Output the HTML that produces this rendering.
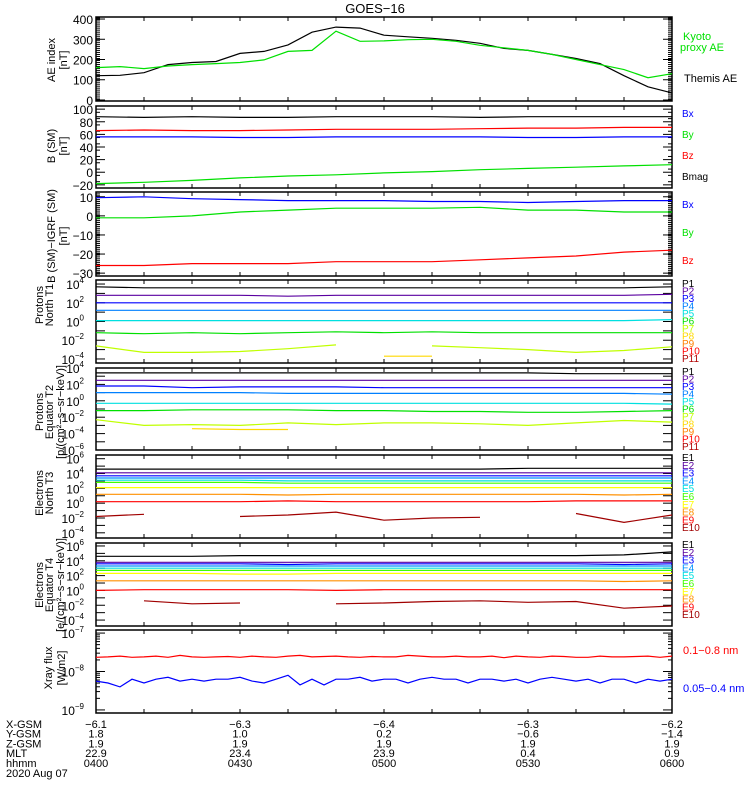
<!DOCTYPE html>
<html><head><meta charset="utf-8"><style>
body{margin:0;background:#fff}
svg{display:block;font-family:"Liberation Sans",sans-serif}
</style></head><body>
<svg id="chart" width="750" height="800" viewBox="0 0 750 800" xmlns="http://www.w3.org/2000/svg">
<rect width="750" height="800" fill="#fff"/>
<text x="375" y="13" text-anchor="middle" font-size="13">GOES−16</text>
<g id="plots"></g>
</svg>
<script>
// ---- data ----
const timesAE = [0,5,10,15,20,25,30,35,40,45,50,55,60,65,70,75,80,85,90,95,100,105,110,115,120];
const aeThemis = [120,122,135,175,185,190,230,240,272,335,360,355,320,312,305,295,280,255,245,225,205,180,120,65,35];
const aeKyoto = [160,165,155,168,175,180,185,198,240,245,340,290,292,298,300,290,270,258,245,225,200,175,150,110,130];
const times10 = [0,10,20,30,40,50,60,70,80,90,100,110,120];
const bBmag = [88,87,88,87,87,88,88,88,87,88,88,88,88];
const bBz = [66,67,66,66,67,68,68,68,69,70,70,71,71];
const bBx = [56,56,56,55,55,56,56,56,56,55,55,56,56];
const bBy = [-18,-16,-13,-9,-6,-4,-1,1,4,6,8,10,12];
const dBx = [9.5,10,9,8.5,8,8,8,7.5,7.5,7,7.5,8,8];
const dBy = [-1,-1,0,2,3,4,4,4,4.5,3,3,2,2];
const dBz = [-26,-26,-25,-25,-25,-24,-24,-24,-23,-22,-21,-19,-18];
// log10 fluxes
const t1 = [
 [3.7,3.6,3.6,3.6,3.6,3.6,3.6,3.6,3.6,3.6,3.6,3.6,3.7],
 [2.8,2.8,2.8,2.8,2.7,2.8,2.8,2.8,2.8,2.8,2.8,2.8,2.9],
 [2.0,2.0,2.0,2.0,2.0,2.0,2.0,2.0,2.0,2.0,2.0,2.0,2.0],
 [1.2,1.2,1.2,1.2,1.2,1.2,1.2,1.2,1.2,1.2,1.2,1.2,1.2],
 [0.1,0.1,0.1,0.1,0.1,0.1,0.1,0.1,0.1,0.1,0.1,0.1,0.2],
 [-1.2,-1.3,-1.2,-1.3,-1.2,-1.1,-1.2,-1.1,-1.2,-1.2,-1.2,-1.2,-1.2],
 [-2.6,-3.3,-3.3,-3.2,-2.9,-2.5,null,-2.6,-2.8,-3.0,-3.3,-3.1,-2.7],
 [null,null,null,null,null,null,null,null,null,null,null,null,null],
 [null,null,null,null,null,null,null,null,null,null,null,null,null],
 [null,null,null,null,null,null,null,null,null,null,null,null,null],
 [null,null,null,null,null,null,null,null,null,null,null,null,null]];
const t1P8 = [null,null,null,null,null,null,-3.7,-3.7,null,null,null,null,null];
const t2 = [
 [3.4,3.4,3.4,3.4,3.4,3.4,3.4,3.4,3.4,3.4,3.3,3.3,3.3],
 [2.5,2.5,2.5,2.5,2.5,2.5,2.5,2.5,2.5,2.5,2.5,2.5,2.5],
 [1.8,1.8,1.6,1.7,1.7,1.7,1.6,1.6,1.6,1.6,1.6,1.6,1.6],
 [1.0,1.0,1.0,1.0,0.9,0.9,0.9,0.9,0.9,0.9,0.9,0.9,0.8],
 [-0.3,-0.3,-0.3,-0.3,-0.3,-0.3,-0.3,-0.3,-0.3,-0.3,-0.3,-0.3,-0.4],
 [-1.2,-1.2,-1.1,-1.1,-1.1,-1.2,-1.2,-1.3,-1.3,-1.4,-1.4,-1.3,-1.2],
 [-2.3,-3.0,-2.9,-3.0,-2.7,-2.9,-2.7,-2.7,-2.8,-3.0,-2.7,-2.4,-2.6]];
const t2P8 = [null,null,-3.4,-3.5,-3.5,null,null,null,null,null,null,null,null];
const t3 = [
 [4.6,4.6,4.6,4.6,4.6,4.6,4.6,4.6,4.6,4.7,4.7,4.7,4.7],
 [4.1,4.1,4.1,4.1,4.1,4.1,4.1,4.1,4.1,4.1,4.1,4.1,4.1],
 [3.7,3.7,3.7,3.7,3.7,3.7,3.7,3.7,3.7,3.7,3.7,3.7,3.7],
 [3.4,3.4,3.4,3.4,3.4,3.4,3.4,3.4,3.4,3.4,3.4,3.4,3.4],
 [3.1,3.1,3.1,3.1,3.0,3.0,3.0,3.0,3.0,3.0,3.0,3.0,3.0],
 [2.8,2.8,2.8,2.8,2.7,2.7,2.7,2.7,2.7,2.7,2.7,2.7,2.7],
 [2.1,2.1,2.1,2.1,2.1,2.1,2.1,2.1,2.1,2.1,2.1,2.1,2.1],
 [1.2,1.2,1.2,1.2,1.1,1.2,1.2,1.2,1.2,1.2,1.2,1.1,1.2],
 [0.2,0.2,0.2,0.2,0.3,0.2,0.2,0.2,0.2,0.2,0.3,0.3,0.3],
 [-1.8,-1.5,null,-1.8,-1.6,-1.2,-2.3,-2.0,-1.9,null,-1.4,-2.6,-1.6]];
const t4 = [
 [4.6,4.6,4.6,4.7,4.7,4.7,4.7,4.7,4.7,4.7,4.7,4.8,5.2],
 [3.8,3.8,3.8,3.8,3.8,3.8,3.8,3.8,3.8,3.8,3.8,3.8,3.8],
 [3.6,3.6,3.6,3.6,3.5,3.6,3.6,3.6,3.6,3.6,3.6,3.5,3.6],
 [3.3,3.3,3.3,3.3,3.3,3.3,3.3,3.3,3.3,3.3,3.3,3.3,3.3],
 [3.0,3.0,3.0,3.0,3.0,3.0,3.0,3.0,3.0,3.0,3.0,3.0,3.0],
 [2.7,2.7,2.7,2.7,2.7,2.7,2.7,2.7,2.7,2.7,2.7,2.7,2.7],
 [2.3,2.3,2.3,2.2,2.2,2.3,2.3,2.3,2.3,2.3,2.3,2.3,2.3],
 [1.3,1.3,1.3,1.3,1.3,1.3,1.3,1.3,1.3,1.3,1.3,1.2,1.3],
 [0,0.1,0.1,0.1,0.1,0,0.1,0.1,0.1,0.1,0.1,0.1,0.1],
 [null,-1.4,-1.8,-1.7,null,-1.8,-1.7,-1.5,-1.4,-1.6,-1.5,-2.4,-2.1]];
const timesX = [0,2.5,5,7.5,10,12.5,15,17.5,20,22.5,25,27.5,30,32.5,35,37.5,40,42.5,45,47.5,50,52.5,55,57.5,60,62.5,65,67.5,70,72.5,75,77.5,80,82.5,85,87.5,90,92.5,95,97.5,100,102.5,105,107.5,110,112.5,115,117.5,120];
const xrayLong = [-7.63,-7.62,-7.6,-7.63,-7.62,-7.6,-7.63,-7.58,-7.62,-7.63,-7.62,-7.61,-7.63,-7.6,-7.62,-7.63,-7.6,-7.58,-7.62,-7.61,-7.6,-7.62,-7.63,-7.61,-7.62,-7.62,-7.58,-7.6,-7.62,-7.62,-7.6,-7.62,-7.62,-7.6,-7.64,-7.6,-7.62,-7.63,-7.6,-7.61,-7.63,-7.63,-7.6,-7.62,-7.62,-7.61,-7.6,-7.63,-7.6];
const xrayShort = [-8.25,-8.3,-8.4,-8.2,-8.3,-8.2,-8.15,-8.25,-8.2,-8.25,-8.2,-8.2,-8.15,-8.25,-8.3,-8.2,-8.1,-8.35,-8.2,-8.35,-8.2,-8.2,-8.15,-8.25,-8.2,-8.2,-8.3,-8.2,-8.15,-8.2,-8.2,-8.3,-8.2,-8.2,-8.25,-8.2,-8.3,-8.2,-8.15,-8.2,-8.25,-8.2,-8.3,-8.2,-8.2,-8.3,-8.2,-8.25,-8.2];
const xRowNames = ["X-GSM","Y-GSM","Z-GSM","MLT","hhmm"];
const xRowVals = [["-6.1","-6.3","-6.4","-6.3","-6.2"],["1.8","1.0","0.2","-0.6","-1.4"],["1.9","1.9","1.9","1.9","1.9"],["22.9","23.4","23.9","0.4","0.9"],["0400","0430","0500","0530","0600"]];
const labelTimes = [0,30,60,90,120];

// ---- layout ----
const X0=96, X1=672, TMAX=120;
const xs = t => X0 + (X1-X0)*t/TMAX;
const PCOL=["#000","#5a00a0","#0000ff","#0080ff","#00e0e0","#00e000","#c0ff00","#ffd800","#ff8000","#ff0000","#b00000"];
const ECOL=["#000","#5a00a0","#0000ff","#0090ff","#00e0e0","#40ff00","#ffff00","#ff9000","#ff0000","#a00000"];
const g=document.getElementById('plots');
const NS="http://www.w3.org/2000/svg";
function el(tag,attrs,parent){const e=document.createElementNS(NS,tag);for(const k in attrs)e.setAttribute(k,attrs[k]);(parent||g).appendChild(e);return e;}
function txt(x,y,s,attrs,parent){const e=el('text',Object.assign({x:x,y:y,'font-size':11},attrs||{}),parent);e.textContent=s;return e;}

function frame(name,top,bot){
  const pg=el('g',{});
  
  
  el('rect',{x:X0,y:top,width:X1-X0,height:bot-top,fill:'none',stroke:'#000','stroke-width':1.5},pg);
  for(let t=10;t<TMAX;t+=10){el('line',{x1:xs(t),x2:xs(t),y1:bot,y2:bot-4,stroke:'#000'},pg);el('line',{x1:xs(t),x2:xs(t),y1:top,y2:top+4,stroke:'#000'},pg);}
  return pg;
}
function series(pg,name,times,vals,ys,color){
  let d='',pen=false;
  for(let i=0;i<times.length;i++){
    if(vals[i]===null||vals[i]===undefined){pen=false;continue;}
    d+=(pen?'L':'M')+xs(times[i]).toFixed(1)+' '+ys(vals[i]).toFixed(1);pen=true;
  }
  const p=el('path',{d:d,fill:'none',stroke:color,'stroke-width':1.2},pg);
  
  
}
// baselines: screen x of each line's baseline
function ylabel(pg,name,baselines,cy,lines){
  lines.forEach((s,i)=>{
    const t=el('text',{transform:`translate(${baselines[i]},${cy}) rotate(-90)`,'text-anchor':'middle','font-size':11},pg);
    
    
    t.textContent=s;
  });
}
function linearPanel(name,top,bot,vmin,vmax,ticks,minor){
  const pg=frame(name,top,bot);
  const ys=v=>bot-(v-vmin)/(vmax-vmin)*(bot-top);
  for(let v=vmin;v<=vmax+1e-9;v+=minor){if(ys(v)>=top&&ys(v)<=bot){el('line',{x1:X0,x2:X0+4,y1:ys(v),y2:ys(v),stroke:'#000'},pg);el('line',{x1:X1,x2:X1-4,y1:ys(v),y2:ys(v),stroke:'#000'},pg);}}
  ticks.forEach(v=>{el('line',{x1:X0,x2:X0+9,y1:ys(v),y2:ys(v),stroke:'#000'},pg);el('line',{x1:X1,x2:X1-9,y1:ys(v),y2:ys(v),stroke:'#000'},pg);
    const tl=txt(X0-3,ys(v)+5,String(v).replace('-','−'),{'text-anchor':'end','font-size':12},pg);});
  return {pg,ys};
}
function logPanel(name,top,bot,lmin,lmax,ticks){
  const pg=frame(name,top,bot);
  const ys=v=>bot-(v-lmin)/(lmax-lmin)*(bot-top);
  for(let v=Math.ceil(lmin);v<=lmax;v++){el('line',{x1:X0,x2:X0+9,y1:ys(v),y2:ys(v),stroke:'#000'},pg);el('line',{x1:X1,x2:X1-9,y1:ys(v),y2:ys(v),stroke:'#000'},pg);}
  ticks.forEach(v=>{const t=el('text',{x:X0-12,y:ys(v)+5,'text-anchor':'end','font-size':12},pg);
    t.textContent='10';const s=el('tspan',{dy:-6,'font-size':8},t);s.textContent=String(v).replace('-','−');});
  return {pg,ys};
}
function rlabel(pg,name,y,s,c){const t=txt(682,y,s,{fill:c,'font-size':10},pg);}

// Panel 1 AE
let P=linearPanel('ae-index-panel',17,101,-5,410,[0,100,200,300,400],10);
series(P.pg,'themis-ae-line',timesAE,aeThemis,P.ys,'#000');
series(P.pg,'kyoto-ae-line',timesAE,aeKyoto,P.ys,'#00e000');
ylabel(P.pg,'ae-y-axis-title',[55,67],60,['AE index','[nT]']);
txt(683,40,'Kyoto',{fill:'#00e000','font-size':11},P.pg);txt(680,51,'proxy AE',{fill:'#00e000','font-size':11},P.pg);
txt(684,82,'Themis AE',{'font-size':11},P.pg);
// Panel 2 B SM
P=linearPanel('b-sm-panel',106,188,-25,105,[-20,0,20,40,60,80,100],10);
series(P.pg,'bmag-line',times10,bBmag,P.ys,'#000');
series(P.pg,'bz-line',times10,bBz,P.ys,'#ff0000');
series(P.pg,'bx-line',times10,bBx,P.ys,'#0000ff');
series(P.pg,'by-line',times10,bBy,P.ys,'#00e000');
ylabel(P.pg,'b-sm-y-axis-title',[55,67],146,['B (SM)','[nT]']);
rlabel(P.pg,'legend-bx',117,'Bx','#0000ff');rlabel(P.pg,'legend-by',138,'By','#00e000');rlabel(P.pg,'legend-bz',159,'Bz','#ff0000');rlabel(P.pg,'legend-bmag',180,'Bmag','#000');
// Panel 3 B-IGRF
P=linearPanel('b-igrf-panel',192,276,-31.5,12.5,[-30,-20,-10,0,10],1);
series(P.pg,'dbx-line',times10,dBx,P.ys,'#0000ff');
series(P.pg,'dby-line',times10,dBy,P.ys,'#00e000');
series(P.pg,'dbz-line',times10,dBz,P.ys,'#ff0000');
ylabel(P.pg,'b-igrf-y-axis-title',[55,67],236,['B (SM)−IGRF (SM)','[nT]']);
rlabel(P.pg,'legend-dbx',208,'Bx','#0000ff');rlabel(P.pg,'legend-dby',236,'By','#00e000');rlabel(P.pg,'legend-dbz',264,'Bz','#ff0000');
// Panel 4 protons T1
P=logPanel('protons-t1-panel',280,363,-4.43,4.43,[4,2,0,-2,-4]);
t1.forEach((v,i)=>series(P.pg,'proton-p'+(i+1)+'-line',times10,v,P.ys,PCOL[i]));
series(P.pg,'proton-p8-segment',times10,t1P8,P.ys,PCOL[7]);
ylabel(P.pg,'protons-t1-y-axis-title',[43,53],305,['Protons','North T1']);
for(let i=0;i<11;i++)rlabel(P.pg,'legend-p'+(i+1),287+i*7.5,'P'+(i+1),PCOL[i]);
// Panel 5 protons T2
P=logPanel('protons-t2-panel',368,450,-6,4,[4,2,0,-2,-4,-6]);
t2.forEach((v,i)=>series(P.pg,'proton-t2-p'+(i+1)+'-line',times10,v,P.ys,PCOL[i]));
series(P.pg,'proton-t2-p8-segment',times10,t2P8,P.ys,PCOL[7]);
ylabel(P.pg,'protons-t2-y-axis-title',[43,53,64],412,['Protons','Equator T2','[p/(cm²−s−sr−keV)]']);
for(let i=0;i<11;i++)rlabel(P.pg,'legend-t2-p'+(i+1),375+i*7.5,'P'+(i+1),PCOL[i]);
// Panel 6 electrons T3
P=logPanel('electrons-t3-panel',455,538,-4.7,6.5,[6,4,2,0,-2,-4]);
t3.forEach((v,i)=>series(P.pg,'electron-e'+(i+1)+'-line',times10,v,P.ys,ECOL[i]));
ylabel(P.pg,'electrons-t3-y-axis-title',[43,53],493,['Electrons','North T3']);
for(let i=0;i<10;i++)rlabel(P.pg,'legend-e'+(i+1),461+i*7.8,'E'+(i+1),ECOL[i]);
// Panel 7 electrons T4
P=logPanel('electrons-t4-panel',543,626,-4.8,6.4,[6,4,2,0,-2,-4]);
t4.forEach((v,i)=>series(P.pg,'electron-t4-e'+(i+1)+'-line',times10,v,P.ys,ECOL[i]));
ylabel(P.pg,'electrons-t4-y-axis-title',[43,53,64],585,['Electrons','Equator T4','[e/(cm²−s−sr−keV)]']);
for(let i=0;i<10;i++)rlabel(P.pg,'legend-t4-e'+(i+1),548+i*7.8,'E'+(i+1),ECOL[i]);
// Panel 8 xray
P=logPanel('xray-panel',630,713,-9.08,-6.92,[-7,-8,-9]);
[2,3,4,5,6,7,8,9].forEach(m=>{[-8,-9].forEach(e=>{const v=e+Math.log10(m);el('line',{x1:X0,x2:X0+4,y1:P.ys(v),y2:P.ys(v),stroke:'#000'},P.pg);el('line',{x1:X1,x2:X1-4,y1:P.ys(v),y2:P.ys(v),stroke:'#000'},P.pg);});});
series(P.pg,'xray-long-line',timesX,xrayLong,P.ys,'#ff0000');
series(P.pg,'xray-short-line',timesX,xrayShort,P.ys,'#0000ff');
ylabel(P.pg,'xray-y-axis-title',[52,65],668,['Xray  flux','[W/m2]']);
txt(683,654,'0.1−0.8 nm',{fill:'#ff0000','font-size':11},P.pg);
txt(683,692,'0.05−0.4 nm',{fill:'#0000ff','font-size':11},P.pg);

// x axis annotation rows
const ax=el('g',{});


xRowNames.forEach((n,r)=>{const y=728+r*9.7;txt(6,y,n,{'font-size':11},ax);
  labelTimes.forEach((t,j)=>txt(xs(t),y,xRowVals[r][j].replace('-','−'),{'text-anchor':'middle','font-size':11},ax));});
txt(6,777,'2020 Aug 07',{'font-size':11},ax);
</script>
</body></html>
